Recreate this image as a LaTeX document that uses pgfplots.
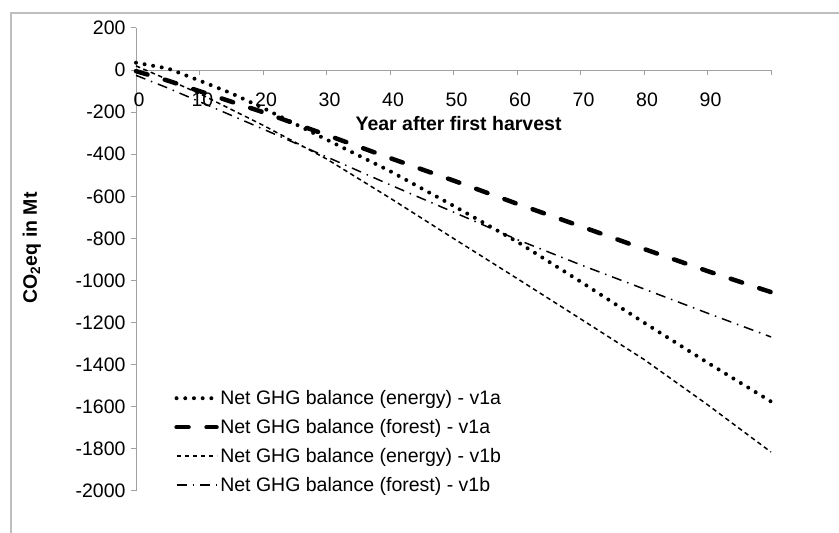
\documentclass[border=0pt]{standalone}
\usepackage{pgfplots}
\pgfplotsset{compat=1.18}
\usepackage{fontspec}
\setmainfont{Liberation Sans}
\definecolor{axgray}{RGB}{160,160,160}
\definecolor{framegray}{RGB}{190,190,190}
\newcommand{\chartfont}{\fontsize{19.5bp}{23bp}\selectfont}

\begin{document}
\begin{tikzpicture}
\useasboundingbox (0,0) rectangle (839bp,533bp);
\draw[framegray, line width=1.2bp] (11bp,-5bp) -- (11bp,520bp) -- (845bp,520bp);
\begin{axis}[
  at={(136bp,42bp)}, anchor=south west,
  scale only axis, width=635bp, height=463bp,
  xmin=0, xmax=100, ymin=-2000, ymax=200,
  axis x line=middle, axis y line=left,
  hide obscured x ticks=false, hide obscured y ticks=false,
  axis line style={-, axgray, line width=1bp},
  xtick={0,10,...,100}, xticklabels={0,10,20,30,40,50,60,70,80,90,},
  ytick={-2000,-1800,...,200},
  tick align=outside, major tick length=5bp,
  tick style={axgray, line width=1bp},
  ticklabel style={font=\chartfont},
  xticklabel style={yshift=-14bp, xshift=3bp},
  yticklabel style={xshift=-2bp},
  /pgf/number format/assume math mode=true,
  /pgf/number format/1000 sep={},
  clip=false,
  legend style={draw=none, fill=none, at={(axis description cs:0.06,0.23)}, anchor=north west,
    font=\chartfont, inner sep=0pt, column sep=0pt, row sep=0pt,
    nodes={font=\chartfont, inner xsep=1.5bp, inner ysep=0bp, text height=20bp, text depth=9bp, anchor=base west}},
  legend cell align=left,
  legend image code/.code={\draw[#1] (0bp,6.5bp) -- (40bp,6.5bp);},
]
\addplot[black, mark=none, line width=4bp, line cap=round, dash pattern=on 0bp off 8.7bp] coordinates {
(0,35) (5,8) (10,-50) (15,-110) (20,-180) (30,-330) (40,-480) (50,-645) (60,-815) (70,-1005) (80,-1200) (90,-1390) (100,-1575)};
\addlegendentry{\chartfont Net GHG balance (energy) - v1a}
\addplot[black, mark=none, line width=4.5bp, line cap=round, dash pattern=on 12bp off 18bp] coordinates {
(0,-5) (5,-50) (10,-100) (20,-200) (30,-308) (40,-418) (50,-525) (60,-635) (70,-742) (80,-850) (90,-955) (100,-1055)};
\addlegendentry{\chartfont Net GHG balance (forest) - v1a}
\addplot[black, mark=none, line width=1.5bp, dash pattern=on 4.5bp off 3.5bp] coordinates {
(0,20) (5,-45) (10,-112) (20,-262) (30,-422) (40,-608) (50,-800) (60,-990) (70,-1182) (80,-1375) (90,-1590) (100,-1815)};
\addlegendentry{\chartfont Net GHG balance (energy) - v1b}
\addplot[black, mark=none, line width=1.5bp, dash pattern=on 10bp off 6bp on 1.5bp off 6bp] coordinates {
(0,-25) (5,-85) (10,-150) (20,-280) (30,-412) (40,-545) (50,-675) (60,-805) (70,-925) (80,-1040) (90,-1155) (100,-1268)};
\addlegendentry{\chartfont Net GHG balance (forest) - v1b}
\node[font=\chartfont\bfseries] at (axis cs:50.8,-252) {Year after first harvest};
\node[font=\chartfont\bfseries, rotate=90] at (axis cs:-16.4,-845) {CO\textsubscript{2}eq in Mt};
\end{axis}
\end{tikzpicture}
\end{document}
